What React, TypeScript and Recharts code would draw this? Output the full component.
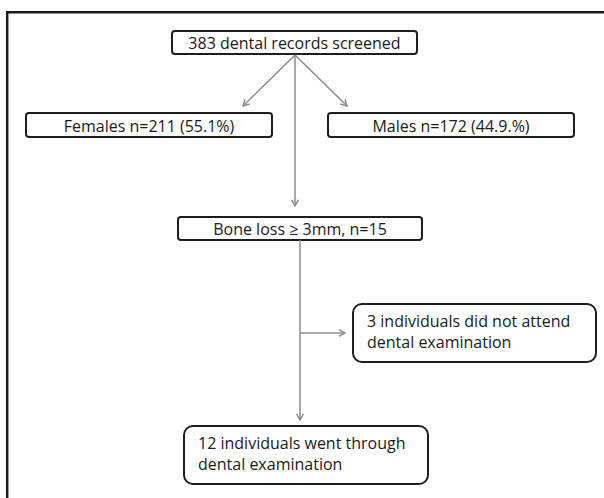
import { ComposedChart, XAxis, YAxis, ReferenceArea, ReferenceLine, Scatter } from "recharts";

// flowchart content
const boxLabels = [
  ["383 dental records screened"],
  ["Females n=211 (55.1%)"],
  ["Males n=172 (44.9.%)"],
  ["Bone loss \u2265 3mm, n=15"],
  ["3 individuals did not attend", "dental examination"],
  ["12 individuals went through", "dental examination"],
];

// layout in chart units (page is 604 x 498 units)
const boxLeft = [172, 26, 328, 178, 353, 184];
const boxRight = [417, 272, 574, 422, 596, 428];
const boxTop = [31, 113, 113, 217, 304, 426];
const boxBottom = [54, 137, 137, 240, 362, 484];

const arrowFrom = [
  [295, 55],
  [295, 55],
  [295, 55],
  [300, 240],
  [300, 333],
];
const arrowTo = [
  [243, 106],
  [347, 106],
  [295, 206],
  [300, 420],
  [345, 333],
];

const W = 604;
const H = 498;
const FONT = "'Open Sans', sans-serif";

// box centres, so the chart has points to scale
const centres = boxLabels.map((_, i) => ({
  x: (boxLeft[i] + boxRight[i]) / 2,
  y: (boxTop[i] + boxBottom[i]) / 2,
}));

function NodeBox(props: any) {
  const { x, y, width, height, lines } = props;
  const multi = lines.length > 1;
  return (
    <g>
      <rect
        x={x}
        y={y}
        width={width}
        height={height}
        rx={multi ? 9 : 3}
        ry={multi ? 9 : 3}
        fill="#fff"
        stroke="#1e1e1e"
        strokeWidth={2}
      />
      {multi ? (
        lines.map((t: string, i: number) => (
          <text
            key={i}
            x={x + 14}
            y={y + 23 + i * 20.5}
            fontFamily={FONT}
            fontSize={16}
            fill="#1a1a1a"
          >
            {t}
          </text>
        ))
      ) : (
        <text
          x={x + width / 2}
          y={y + height / 2 + 6.5}
          textAnchor="middle"
          fontFamily={FONT}
          fontSize={16}
          fill="#1a1a1a"
        >
          {lines[0]}
        </text>
      )}
    </g>
  );
}

function Arrow(props: any) {
  const { x1, y1, x2, y2 } = props;
  const ang = Math.atan2(y2 - y1, x2 - x1);
  const len = 7;
  const spread = 0.5;
  const ax = x2 - len * Math.cos(ang - spread);
  const ay = y2 - len * Math.sin(ang - spread);
  const bx = x2 - len * Math.cos(ang + spread);
  const by = y2 - len * Math.sin(ang + spread);
  return (
    <g stroke="#8c8c8c" strokeWidth={1.5} fill="none">
      <line x1={x1} y1={y1} x2={x2} y2={y2} />
      <polyline points={`${ax},${ay} ${x2},${y2} ${bx},${by}`} />
    </g>
  );
}

function Edge(props: any) {
  const { x1, y1, x2, y2 } = props;
  return <line x1={x1} y1={y1} x2={x2} y2={y2} stroke="#1a1a1a" strokeWidth={2.5} />;
}

export default function App() {
  return (
    <div style={{ width: W, height: H, background: "#fff" }}>
      <style>{`body{margin:0}`}</style>
      <ComposedChart
        width={W}
        height={H}
        data={centres}
        margin={{ top: 0, right: 0, bottom: 0, left: 0 }}
      >
        <XAxis type="number" dataKey="x" domain={[0, W]} hide allowDataOverflow />
        <YAxis type="number" dataKey="y" domain={[0, H]} reversed hide allowDataOverflow width={0} />

        <Scatter data={centres} dataKey="y" fill="none" shape={() => <g />} isAnimationActive={false} />

        {/* outer frame, only left and top edges fall inside the picture */}
        <ReferenceLine
          segment={[{ x: 7.2, y: 11 }, { x: 7.2, y: H }]}
          ifOverflow="visible"
          shape={(p: any) => <Edge {...p} />}
        />
        <ReferenceLine
          segment={[{ x: 6, y: 12.2 }, { x: W, y: 12.2 }]}
          ifOverflow="visible"
          shape={(p: any) => <Edge {...p} />}
        />

        {arrowFrom.map((f, i) => (
          <ReferenceLine
            key={"a" + i}
            segment={[
              { x: f[0], y: f[1] },
              { x: arrowTo[i][0], y: arrowTo[i][1] },
            ]}
            ifOverflow="visible"
            shape={(p: any) => <Arrow {...p} />}
          />
        ))}

        {boxLabels.map((lines, i) => (
          <ReferenceArea
            key={"b" + i}
            x1={boxLeft[i]}
            x2={boxRight[i]}
            y1={boxTop[i]}
            y2={boxBottom[i]}
            ifOverflow="visible"
            shape={(p: any) => <NodeBox {...p} lines={lines} />}
          />
        ))}
      </ComposedChart>
    </div>
  );
}
